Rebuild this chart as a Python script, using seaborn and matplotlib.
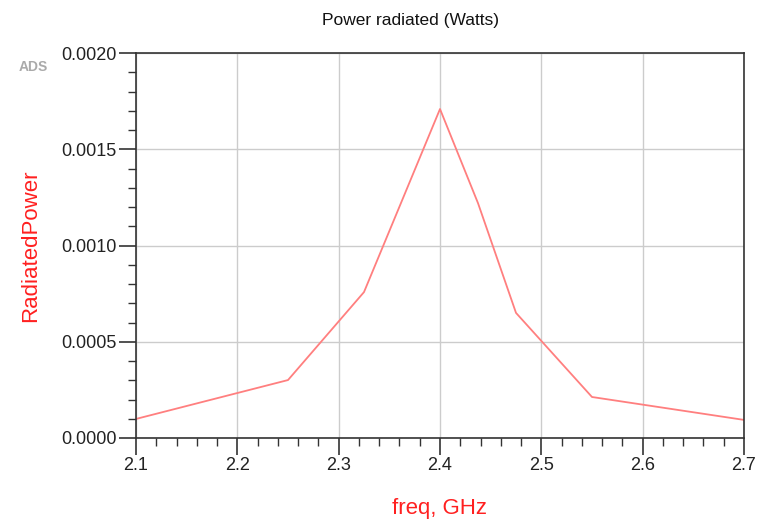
import matplotlib
matplotlib.use("Agg")
import matplotlib.pyplot as plt
import seaborn as sns
import pandas as pd
from matplotlib.ticker import MultipleLocator

freq = [2.1, 2.25, 2.325, 2.4, 2.4375, 2.475, 2.55, 2.7]
power = [0.000099, 0.000301, 0.000758, 0.001709, 0.00122, 0.00065, 0.000213, 0.000094]
xticks = [2.1, 2.2, 2.3, 2.4, 2.5, 2.6, 2.7]
yticks = [0.0, 0.0005, 0.0010, 0.0015, 0.0020]

sns.set_style("white")
plt.rcParams['font.family'] = ['Liberation Sans', 'DejaVu Sans']

df = pd.DataFrame({"freq": freq, "power": power})

fig = plt.figure(figsize=(7.64, 5.25), dpi=100)
ax = fig.add_axes([136/764, 1-438/525, (744-136)/764, (438-53)/525])
sns.lineplot(data=df, x="freq", y="power", ax=ax, color="#ff7f7f", linewidth=1.3)

ax.set_xlim(2.1, 2.7)
ax.set_ylim(0, 0.002)
ax.set_xticks(xticks)
ax.set_xticklabels([f"{v:.1f}" for v in xticks])
ax.set_yticks(yticks)
ax.set_yticklabels([f"{v:.4f}" for v in yticks])
ax.xaxis.set_minor_locator(MultipleLocator(0.02))
ax.yaxis.set_minor_locator(MultipleLocator(0.0001))
ax.tick_params(which="major", direction="out", length=12, width=1.2, color="#333333",
               labelsize=13, labelcolor="#222222", bottom=True, left=True, pad=2)
ax.tick_params(which="minor", direction="out", length=5.5, width=1.0, color="#333333",
               bottom=True, left=True)
ax.grid(True, which="major", color="#cccccc", linewidth=1.0)
for s in ax.spines.values():
    s.set_color("#333333")
    s.set_linewidth(1.2)

ax.set_xlabel("freq, GHz", color="#ff2020", fontsize=16, labelpad=17)
ax.set_ylabel("RadiatedPower", color="#ff2020", fontsize=16, labelpad=14)

fig.text(411/764, 1-20/525, "Power radiated (Watts)", ha="center", va="center",
         fontsize=12.5, color="#111111")
fig.text(33/764, 1-67/525, "ADS", ha="center", va="center", fontsize=10,
         color="#aaaaaa", fontweight="bold")

fig.savefig("out.png", dpi=100)
